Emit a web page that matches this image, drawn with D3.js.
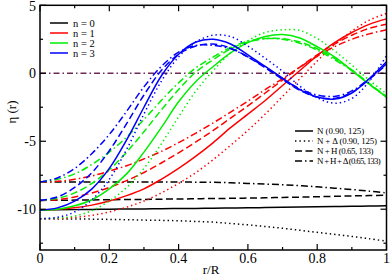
<!DOCTYPE html>
<html><head><meta charset="utf-8">
<script src="https://cdn.jsdelivr.net/npm/d3@7/dist/d3.min.js"></script>
<style>
body{margin:0;background:#fff}
svg{display:block}
</style>
</head><body>
<svg id="c" width="390" height="277" font-family="'Liberation Serif','Times New Roman','DejaVu Serif',serif"></svg>
<script>
// ---- data ----
const rValues = [0,0.05,0.1,0.15,0.2,0.25,0.3,0.35,0.4,0.45,0.5,0.55,0.6,0.65,0.7,0.75,0.8,0.85,0.9,0.95,1.0];

const n0_N   = [-10.05,-10.04,-10.03,-10.02,-10.0,-9.99,-9.98,-9.96,-9.95,-9.94,-9.92,-9.91,-9.9,-9.88,-9.86,-9.84,-9.82,-9.8,-9.78,-9.77,-9.75];
const n0_ND  = [-10.7,-10.71,-10.72,-10.73,-10.75,-10.77,-10.8,-10.82,-10.85,-10.9,-10.95,-11.05,-11.15,-11.27,-11.4,-11.55,-11.7,-11.85,-12.0,-12.17,-12.35];
const n0_NH  = [-9.35,-9.34,-9.33,-9.32,-9.3,-9.29,-9.28,-9.26,-9.25,-9.23,-9.21,-9.2,-9.18,-9.16,-9.13,-9.11,-9.08,-9.05,-9.02,-9.0,-8.97];
const n0_NHD = [-8.0,-8.0,-8.0,-8.0,-8.0,-8.0,-8.0,-8.0,-8.0,-8.01,-8.02,-8.05,-8.1,-8.15,-8.2,-8.27,-8.35,-8.45,-8.55,-8.67,-8.8];

const n1_N   = [-10.05,-10.0,-9.9,-9.7,-9.4,-9.0,-8.5,-7.8,-7.0,-6.1,-5.1,-4.0,-3.0,-2.0,-0.9,0.2,1.3,2.25,3.0,3.6,4.0];
const n1_ND  = [-10.7,-10.7,-10.6,-10.45,-10.2,-9.85,-9.4,-8.8,-8.1,-7.3,-6.35,-5.3,-4.2,-3.0,-1.7,-0.4,0.9,2.1,3.1,3.9,4.4];
const n1_NH  = [-9.35,-9.3,-9.1,-8.8,-8.4,-7.9,-7.3,-6.6,-5.85,-5.05,-4.2,-3.3,-2.4,-1.45,-0.5,0.45,1.35,2.15,2.8,3.3,3.6];
const n1_NHD = [-8.0,-7.95,-7.8,-7.55,-7.2,-6.8,-6.3,-5.75,-5.1,-4.4,-3.65,-2.85,-2.05,-1.2,-0.4,0.45,1.25,1.95,2.5,2.9,3.2];

const n2_N   = [-10.05,-10.0,-9.75,-9.3,-8.5,-7.4,-5.8,-4.0,-2.1,-0.6,0.5,1.5,2.25,2.7,2.85,2.6,1.95,1.2,0.2,-0.8,-1.75];
const n2_ND  = [-10.7,-10.65,-10.5,-10.1,-9.4,-8.4,-7.0,-5.2,-3.2,-1.3,0.2,1.5,2.4,3.0,3.2,3.15,2.55,1.65,0.6,-0.5,-1.5];
const n2_NH  = [-9.35,-9.2,-8.8,-8.1,-7.1,-5.8,-4.3,-2.7,-1.2,0.1,1.0,1.8,2.3,2.55,2.55,2.3,1.8,1.1,0.25,-0.75,-1.7];
const n2_NHD = [-8.0,-7.8,-7.4,-6.7,-5.8,-4.7,-3.4,-2.0,-0.7,0.4,1.2,1.9,2.35,2.55,2.5,2.2,1.7,1.0,0.2,-0.8,-1.75];

const n3_N   = [-10.05,-9.9,-9.4,-8.5,-7.0,-4.9,-2.5,-0.2,1.4,2.3,2.5,2.15,1.35,0.5,-0.35,-1.2,-1.75,-1.9,-1.45,-0.4,0.85];
const n3_ND  = [-10.7,-10.6,-10.2,-9.3,-7.8,-5.6,-3.0,-0.6,1.2,2.3,2.8,2.7,2.0,1.1,0.15,-0.95,-1.8,-2.2,-1.85,-0.6,1.3];
const n3_NH  = [-9.35,-9.1,-8.4,-7.3,-5.7,-3.7,-1.6,0.2,1.4,2.0,2.15,1.85,1.2,0.4,-0.45,-1.25,-1.75,-1.85,-1.4,-0.45,0.65];
const n3_NHD = [-8.0,-7.7,-7.0,-5.9,-4.5,-2.8,-1.0,0.5,1.55,2.05,2.05,1.8,1.2,0.45,-0.4,-1.15,-1.6,-1.7,-1.3,-0.4,0.7];

const nLabels = ["n = 0","n = 1","n = 2","n = 3"];
const nColors = ["#000000","#ff0000","#00ee00","#0000ff"];
const modelLabels = ["N (0.90, 125)","N + \u0394 (0.90, 125)","N + H (0.65, 133)","N + H + \u0394 (0.65, 133)"];
const xTicks = [0,0.2,0.4,0.6,0.8,1];
const yTicks = [5,0,-5,-10];

const seriesByN = [
  [n0_N,n0_ND,n0_NH,n0_NHD],
  [n1_N,n1_ND,n1_NH,n1_NHD],
  [n2_N,n2_ND,n2_NH,n2_NHD],
  [n3_N,n3_ND,n3_NH,n3_NHD]
];

// ---- layout ----
const L=40, R=386.5, T=5.3, B=250;
const svg=d3.select("#c");
const x=d3.scaleLinear().domain([0,1]).range([L,R]);
const y=d3.scaleLinear().domain([-13,5]).range([B,T]);

const dashes=[null,"1.4,3","7,3.5","7,3,1.5,3"];

svg.append("clipPath").attr("id","clip").append("rect")
  .attr("x",L).attr("y",T).attr("width",R-L).attr("height",B-T);

const g=svg.append("g").attr("clip-path","url(#clip)");

// zero line
g.append("line").attr("x1",L).attr("x2",R).attr("y1",y(0)).attr("y2",y(0))
  .attr("stroke","#6e2a55").attr("stroke-width",1.3).attr("stroke-dasharray","6,3,1.5,3");

const line=d3.line().x((d,i)=>x(rValues[i])).y(d=>y(d)).curve(d3.curveCatmullRom.alpha(0.5));

seriesByN.forEach((models,ni)=>{
  models.forEach((vals,mi)=>{
    g.append("path").datum(vals).attr("d",line)
      .attr("fill","none").attr("stroke",nColors[ni]).attr("stroke-width",1.5)
      .attr("stroke-dasharray",dashes[mi]);
  });
});

// axes frame
svg.append("rect").attr("x",L).attr("y",T).attr("width",R-L).attr("height",B-T)
  .attr("fill","none").attr("stroke","#000").attr("stroke-width",1.5);

const xMinor=d3.range(0.1,1,0.2);
const yMinor=[2.5,-2.5,-7.5,-12.5];
const tk=svg.append("g").attr("stroke","#000").attr("stroke-width",1.2);
xTicks.forEach(v=>{
  tk.append("line").attr("x1",x(v)).attr("x2",x(v)).attr("y1",B).attr("y2",B-6);
  tk.append("line").attr("x1",x(v)).attr("x2",x(v)).attr("y1",T).attr("y2",T+6);
});
xMinor.forEach(v=>{
  tk.append("line").attr("x1",x(v)).attr("x2",x(v)).attr("y1",B).attr("y2",B-3);
  tk.append("line").attr("x1",x(v)).attr("x2",x(v)).attr("y1",T).attr("y2",T+3);
});
yTicks.forEach(v=>{
  tk.append("line").attr("x1",L).attr("x2",L+6).attr("y1",y(v)).attr("y2",y(v));
  tk.append("line").attr("x1",R).attr("x2",R-6).attr("y1",y(v)).attr("y2",y(v));
});
yMinor.forEach(v=>{
  tk.append("line").attr("x1",L).attr("x2",L+3).attr("y1",y(v)).attr("y2",y(v));
  tk.append("line").attr("x1",R).attr("x2",R-3).attr("y1",y(v)).attr("y2",y(v));
});

xTicks.forEach(v=>{
  svg.append("text").attr("x",x(v)).attr("y",B+13).attr("text-anchor","middle")
    .attr("font-size",14).text(v===0?"0":v===1?"1":d3.format(".1f")(v));
});
yTicks.forEach(v=>{
  svg.append("text").attr("x",L-4).attr("y",y(v)+(v===5?5.6:5)).attr("text-anchor","end")
    .attr("font-size",14).text(v);
});

svg.append("text").attr("x",211).attr("y",274).attr("text-anchor","middle").attr("font-size",13).text("r/R");
svg.append("text").attr("transform","translate(16,112) rotate(-90)").attr("text-anchor","middle")
  .attr("font-size",13).text("\u03b7 (r)");

// legend 1
nLabels.forEach((t,i)=>{
  const yy=23+i*10;
  svg.append("line").attr("x1",50).attr("x2",68).attr("y1",yy).attr("y2",yy)
    .attr("stroke",nColors[i]).attr("stroke-width",1.5);
  svg.append("text").attr("x",73).attr("y",yy+3.5).attr("font-size",10.5).text(t);
});
// legend 2
const legWidths=[47,60,56,63];
modelLabels.forEach((t,i)=>{
  const yy=131+i*10;
  svg.append("line").attr("x1",295).attr("x2",313).attr("y1",yy).attr("y2",yy)
    .attr("stroke","#000").attr("stroke-width",1.5).attr("stroke-dasharray",dashes[i]);
  const tx=svg.append("text").attr("x",317).attr("y",yy+3.2).attr("font-size",8.9).text(t);
  const w=tx.node().getComputedTextLength();
  if(w>legWidths[i]){
    tx.attr("letter-spacing",((legWidths[i]-w)/t.length).toFixed(2)+"px");
  }
});
</script>
</body></html>
